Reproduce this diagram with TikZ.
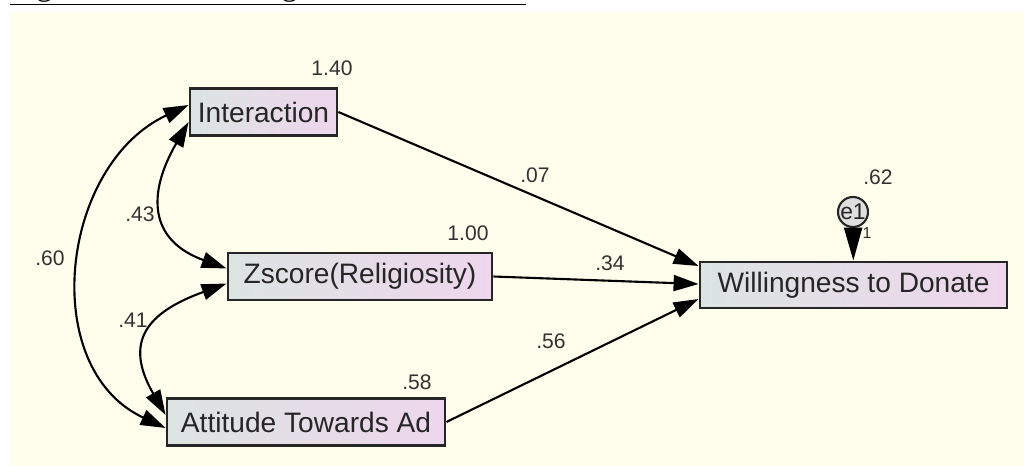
\documentclass[tikz,border=0pt]{standalone}
\usepackage{fontspec}
\setmainfont{Liberation Sans}
\newfontfamily\captionserif{Liberation Serif}
\usetikzlibrary{arrows.meta}
\definecolor{cream}{RGB}{255,254,236}
\definecolor{boxleft}{RGB}{220,228,226}
\definecolor{boxright}{RGB}{238,214,236}
\definecolor{estgray}{RGB}{50,50,50}

\begin{document}
\begin{tikzpicture}[
  every node/.style={font=\fontsize{16}{18}\selectfont, text=black!85},
  var/.style={draw=black!85, line width=1.6pt, left color=boxleft, right color=boxright, minimum height=0.94cm, inner sep=0pt},
  errvar/.style={circle, draw=black!85, line width=1.2pt, fill=gray!25, minimum size=0.6cm, inner sep=0pt, font=\fontsize{13}{13}\selectfont},
  est/.style={font=\fontsize{12}{14}\selectfont, text=estgray},
  regarrow/.style={-{Triangle[length=0.5cm,width=0.32cm]}, line width=1.2pt},
  cov/.style={{Triangle[length=0.5cm,width=0.32cm]}-{Triangle[length=0.5cm,width=0.32cm]}, line width=1.2pt}
]
\useasboundingbox (0,0) rectangle (20.48,-9.32);
\fill[cream] (0.2,-0.24) rectangle (20.48,-9.32);

% caption, cut off at the top edge
\node[anchor=base west, inner sep=0pt, text=black, font=\captionserif\fontsize{18}{20}\selectfont] (caption) at (0.2,0.1) {\underline{Figure 4.4.2 Path Diagram – Moderation}};

% observed variables
\node[var, minimum width=2.94cm] (inter) at (5.27,-2.24) {Interaction};
\node[var, minimum width=5.28cm] (zrelig) at (7.20,-5.53) {Zscore(Religiosity)};
\node[var, minimum width=5.56cm] (attad) at (6.12,-8.44) {Attitude Towards Ad};
\node[var, minimum width=6.14cm, minimum height=0.92cm] (willing) at (17.07,-5.70) {Willingness to Donate};
\node[errvar] (e1) at (17.06,-4.24) {e1};

% variances
\node[est] (v140) at (6.64,-1.36) {1.40};
\node[est] (v100) at (9.36,-4.66) {1.00};
\node[est] (v058) at (8.34,-7.64) {.58};
\node[est] (v062) at (17.56,-3.54) {.62};
\node[est, font=\fontsize{9}{9}\selectfont] (w1) at (17.34,-4.66) {1};

% regression paths
\draw[regarrow] (inter.east) -- ([yshift=0.38cm]willing.west);
\draw[regarrow] (zrelig.east) -- ([yshift=0.02cm]willing.west);
\draw[regarrow] (attad.east) -- ([yshift=-0.28cm]willing.west);
\draw[-{Triangle[length=0.66cm,width=0.36cm]}, line width=1.2pt] (e1) -- (willing);
\node[est] (b007) at (10.70,-3.50) {.07};
\node[est] (b034) at (12.20,-5.26) {.34};
\node[est] (b056) at (11.02,-6.82) {.56};

% covariances
\draw[cov] ([yshift=0.14cm]inter.west) to[out=205, in=155, looseness=1.12] ([yshift=-0.12cm]attad.west);
\draw[cov] ([yshift=-0.2cm]inter.west) to[out=240, in=160, looseness=1.4] ([yshift=0.16cm]zrelig.west);
\draw[cov] ([yshift=-0.14cm]zrelig.west) to[out=200, in=120, looseness=1.5] ([yshift=0.14cm]attad.west);
\node[est] (c060) at (1.0,-5.16) {.60};
\node[est] (c043) at (2.80,-4.28) {.43};
\node[est] (c041) at (2.66,-6.40) {.41};
\end{tikzpicture}
\end{document}
